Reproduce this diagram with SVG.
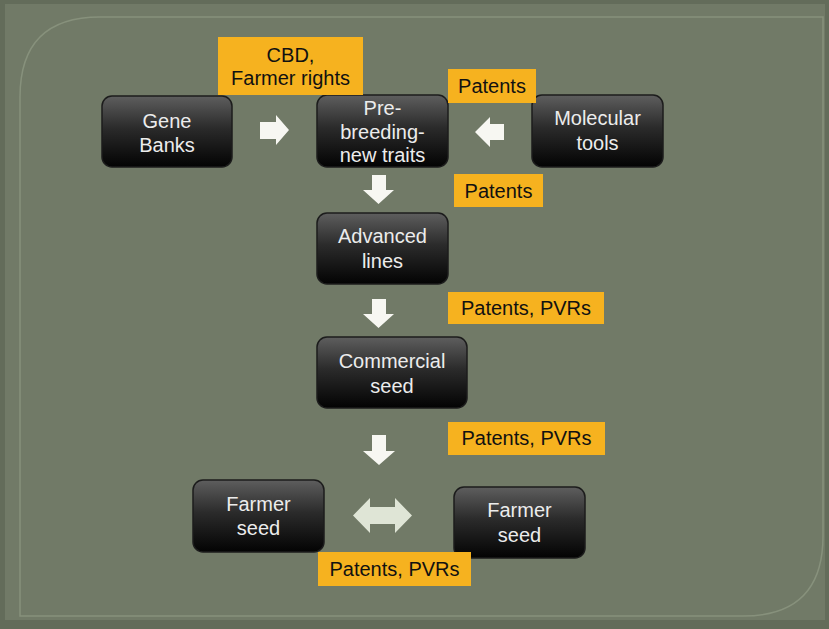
<svg xmlns="http://www.w3.org/2000/svg" width="829" height="629" viewBox="0 0 829 629">
<defs>
<linearGradient id="ng" x1="0" y1="0" x2="0" y2="1">
<stop offset="0" stop-color="#5e5e5e"/>
<stop offset="0.45" stop-color="#2b2b2b"/>
<stop offset="1" stop-color="#030303"/>
</linearGradient>
<style>
.node rect{fill:url(#ng);stroke:#1c1c1c;stroke-width:1.5}
.node text{fill:#ececec;font-family:"Liberation Sans",Arial,sans-serif;font-size:20px;text-anchor:middle}
.lab rect{fill:#f6b21f}
.lab text{fill:#111;font-family:"Liberation Sans",Arial,sans-serif;font-size:20px;text-anchor:middle}
.arr{fill:#f7f7f2}
.arr2{fill:#dfe5d6}
</style>
</defs>
<rect x="0" y="0" width="829" height="629" fill="#636c5a"/>
<rect x="5" y="4" width="820" height="616" fill="#717a67"/>
<path d="M100 17 H823 V536 Q823 616 743 616 H20 V97 Q20 17 100 17 Z" fill="none" stroke="#87917c" stroke-width="1.5"/>

<g id="connectors">
<path class="arr" d="M260 122 H276 V115 L289 130 L276 145 V139 H260 Z"/>
<path class="arr" d="M504 124 H490 V117 L475 132 L490 147 V140 H504 Z"/>
<path class="arr" d="M372 175 H386 V190 H394 L378.5 204 L363 190 H372 Z"/>
<path class="arr" d="M372 299 H386 V314 H394 L378.5 328 L363 314 H372 Z"/>
<path class="arr" d="M372 435 H386 V451 H395 L379 465 L363 451 H372 Z"/>
<path class="arr2" d="M353 515.5 L370 498 V507 H395 V498 L412 515.5 L395 533 V524 H370 V533 Z"/>
</g>

<g id="gene-banks" class="node"><rect x="102" y="96" width="130" height="71" rx="10"/><text x="167" y="128">Gene</text><text x="167" y="152">Banks</text></g>
<g id="pre-breeding" class="node"><rect x="317" y="95" width="131" height="72" rx="10"/><text x="382.5" y="115">Pre-</text><text x="382.5" y="138.5">breeding-</text><text x="382.5" y="162">new traits</text></g>
<g id="molecular-tools" class="node"><rect x="532" y="95" width="131" height="72" rx="10"/><text x="597.5" y="125">Molecular</text><text x="597.5" y="150">tools</text></g>
<g id="advanced-lines" class="node"><rect x="317" y="213" width="131" height="71" rx="10"/><text x="382.5" y="243">Advanced</text><text x="382.5" y="268">lines</text></g>
<g id="commercial-seed" class="node"><rect x="317" y="337" width="150" height="71" rx="10"/><text x="392" y="368">Commercial</text><text x="392" y="393">seed</text></g>
<g id="farmer-seed-1" class="node"><rect x="193" y="480" width="131" height="72" rx="10"/><text x="258.5" y="511">Farmer</text><text x="258.5" y="535">seed</text></g>
<g id="farmer-seed-2" class="node"><rect x="454" y="487" width="131" height="71" rx="10"/><text x="519.5" y="517">Farmer</text><text x="519.5" y="542">seed</text></g>

<g id="label-cbd" class="lab"><rect x="218" y="37" width="145" height="58"/><text x="290.5" y="62">CBD,</text><text x="290.5" y="85">Farmer rights</text></g>
<g id="label-patents-1" class="lab"><rect x="448" y="69" width="88" height="34"/><text x="492" y="93">Patents</text></g>
<g id="label-patents-2" class="lab"><rect x="454" y="174" width="89" height="33"/><text x="498.5" y="198">Patents</text></g>
<g id="label-pvr-1" class="lab"><rect x="448" y="292" width="156" height="32"/><text x="526" y="315">Patents, PVRs</text></g>
<g id="label-pvr-2" class="lab"><rect x="448" y="422" width="157" height="33"/><text x="526.5" y="445">Patents, PVRs</text></g>
<g id="label-pvr-3" class="lab"><rect x="318" y="552" width="153" height="34"/><text x="394.5" y="576">Patents, PVRs</text></g>
</svg>
